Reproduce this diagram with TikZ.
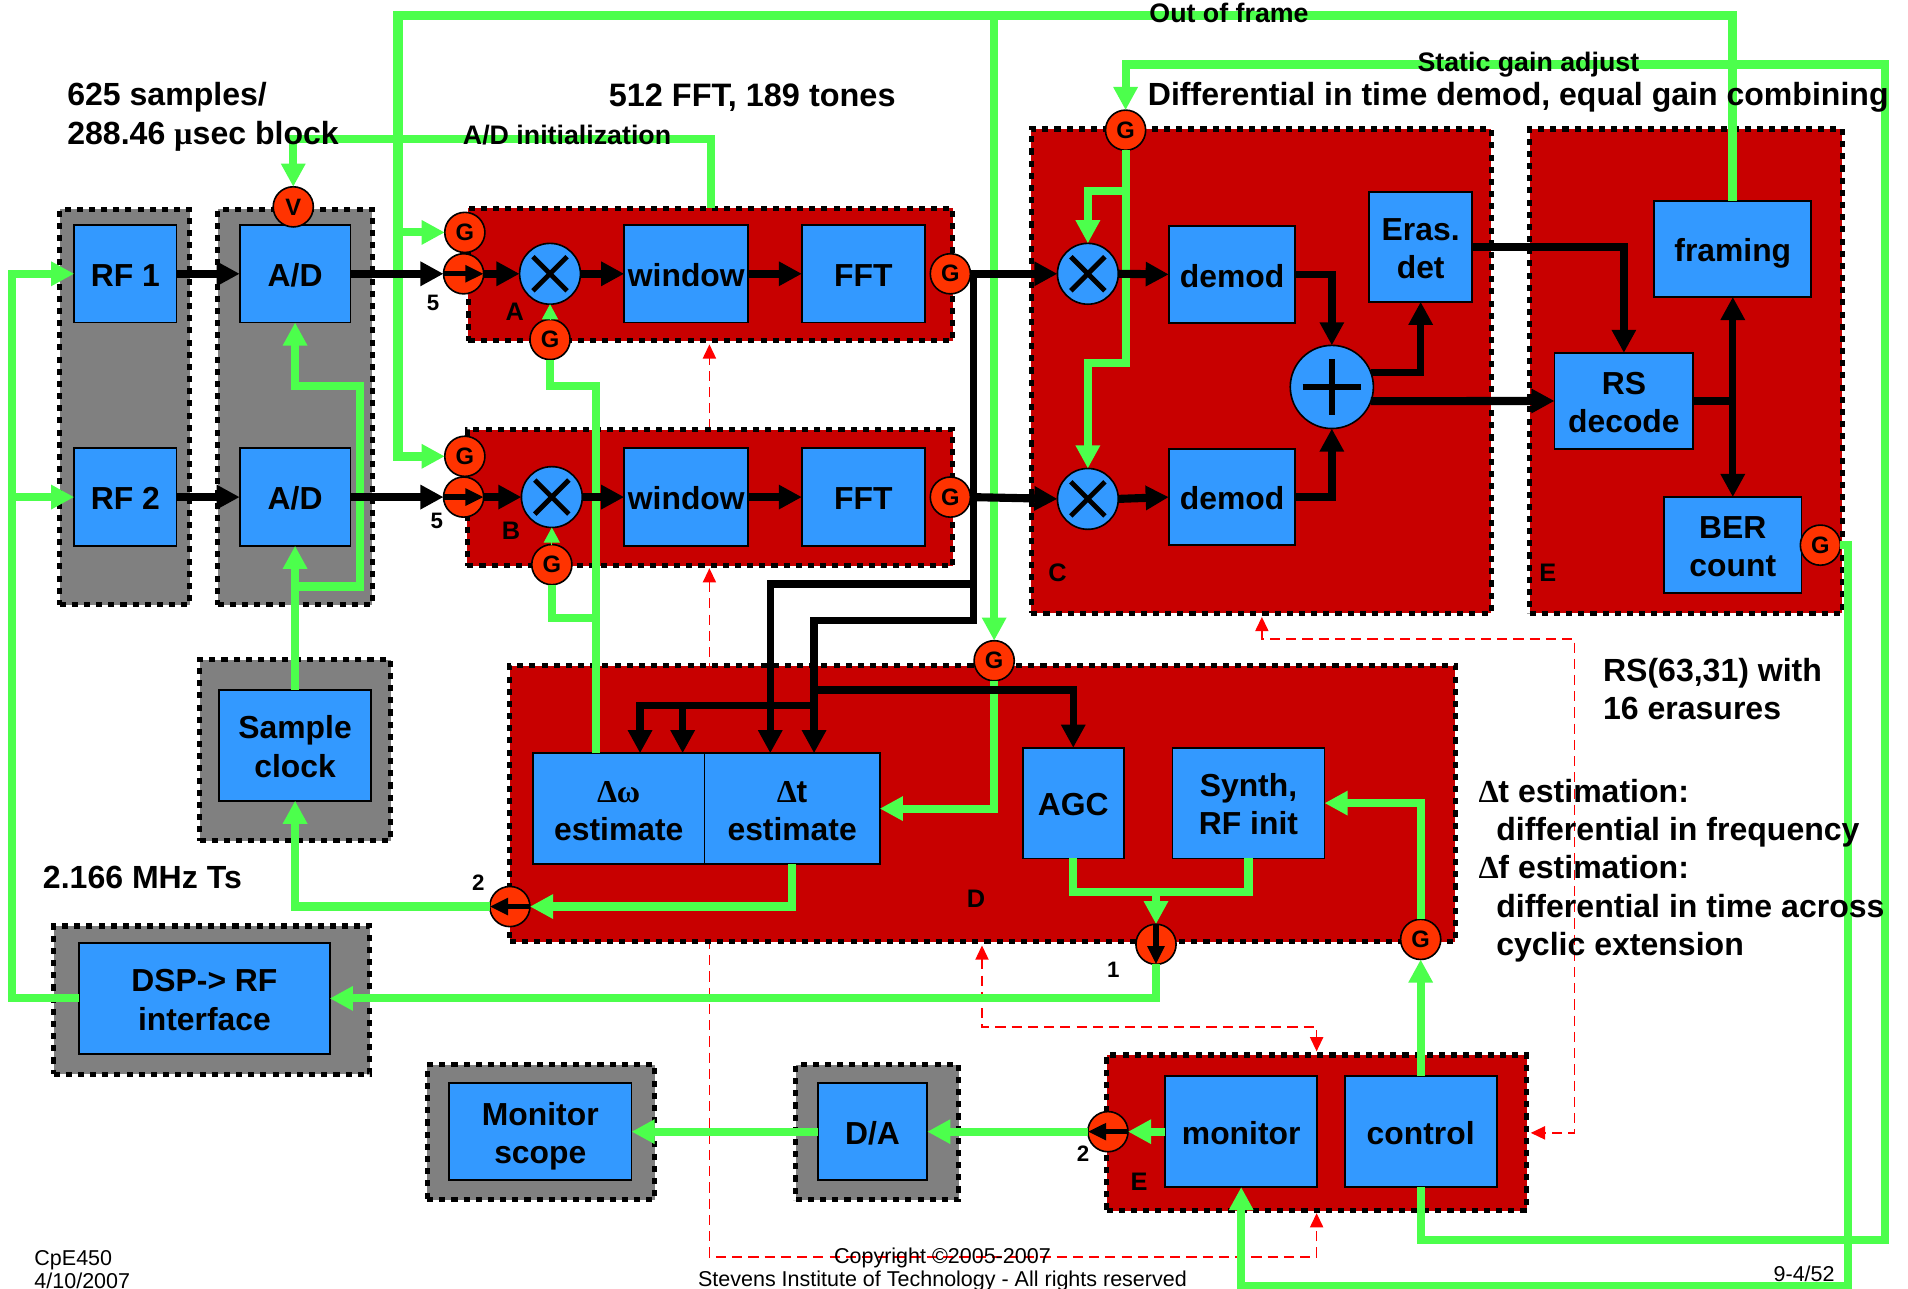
\documentclass[tikz,border=0pt]{standalone}
\usepackage{fontspec}
\setmainfont{Liberation Sans}
\newfontfamily\greekfont{Liberation Serif}
\usetikzlibrary{arrows.meta}

\definecolor{panelred}{HTML}{C80000}
\definecolor{panelgray}{HTML}{808080}
\definecolor{blockblue}{HTML}{3399FF}
\definecolor{gainorange}{HTML}{FF3300}
\definecolor{wiregreen}{HTML}{4CFF4C}

\newcommand{\uprow}{\rule{0pt}{16.5pt}}

\tikzset{
	boxsize/.style 2 args={minimum width=#1*0.6pt, minimum height=#2*0.6pt},
	panel/.style={draw=black, line width=2.5pt, dash pattern=on 3pt off 3pt, inner sep=0pt, outer sep=0pt},
	redpanel/.style={panel, fill=panelred},
	graypanel/.style={panel, fill=panelgray},
	block/.style={draw=black, line width=0.9pt, fill=blockblue, inner sep=0pt, outer sep=0pt, align=center, font=\fontsize{15.7}{18.9}\selectfont\bfseries,
		execute at begin node={\rule{0pt}{16.5pt}}, execute at end node={\rule[-4pt]{0pt}{4pt}}},
	gain/.style={circle, draw=black, line width=0.8pt, fill=gainorange, inner sep=0pt, outer sep=0pt, minimum size=19.8pt, font=\fontsize{11.7}{14}\selectfont\bfseries},
	mixer/.style={circle, draw=black, line width=0.8pt, fill=blockblue, inner sep=0pt, outer sep=0pt, minimum size=30pt},
	glyph/.style={line width=2.4pt, black},
	greenline/.style={draw=wiregreen, line width=4pt, -{Triangle[length=11.4pt,width=11.4pt]}},
	greenplain/.style={draw=wiregreen, line width=4pt},
	greentiny/.style={draw=wiregreen, line width=0.5pt, -{Triangle[length=7.5pt,width=8pt]}},
	blackline/.style={draw=black, line width=4pt, -{Triangle[length=11.4pt,width=11.4pt]}},
	blackthin/.style={draw=black, line width=3.6pt, -{Triangle[length=11.4pt,width=11.4pt]}},
	blackinner/.style={draw=black, line width=2.6pt, -{Triangle[length=9pt,width=8pt]}},
	dashline/.style={draw=red, line width=0.7pt, dash pattern=on 5pt off 3pt, -{Triangle[length=7pt,width=6.5pt]}},
	bigtext/.style={align=left, inner sep=0pt, font=\fontsize{15.8}{18.9}\selectfont\bfseries},
	midtext/.style={align=center, inner sep=0pt, font=\fontsize{13.2}{15}\selectfont\bfseries},
	smalltext/.style={inner sep=0pt, font=\fontsize{11}{13}\selectfont\bfseries},
	sectext/.style={inner sep=0pt, font=\fontsize{12.5}{14}\selectfont\bfseries},
	foottext/.style={inner sep=0pt, font=\fontsize{10.6}{11.4}\selectfont},
}

\begin{document}
\begin{tikzpicture}[x=0.6pt, y=-0.6pt]
	\useasboundingbox (0,0) rectangle (1568,1059);

	\coordinate (tipa) at (583,283);
	\coordinate (tipb) at (583,467);
	\coordinate (tipc) at (1037,507);
	\coordinate (tipd) at (807,777);
	\coordinate (tipe) at (1082,864);
	\coordinate (tipf) at (1082,997);
	\coordinate (tipg) at (1258,931);
	\coordinate (dashb) at (583,353);
	\coordinate (dwtop) at (490,619);

	\draw[dashline] (dashb) -- (tipa);
	\draw[dashline, {Triangle[length=7pt,width=6.5pt]}-{Triangle[length=7pt,width=6.5pt]}] (tipb) -- (583,1033) -- (1082,1033) -- (tipf);
	\draw[dashline, {Triangle[length=7pt,width=6.5pt]}-{Triangle[length=7pt,width=6.5pt]}] (tipc) -- (1037,525) -- (1294,525) -- (1294,931) -- (tipg);
	\draw[dashline, {Triangle[length=7pt,width=6.5pt]}-{Triangle[length=7pt,width=6.5pt]}] (tipd) -- (807,844) -- (1082,844) -- (tipe);

	\node (panrf) [graypanel, boxsize={107}{325}] at (102.5,334.5) {};
	\node (panad) [graypanel, boxsize={127}{325}] at (242.5,334.5) {};
	\node (pana) [redpanel, boxsize={398}{109}] at (584,225.5) {};
	\node (panb) [redpanel, boxsize={399}{112}] at (583.5,409) {};
	\node (panc) [redpanel, boxsize={378}{398}] at (1036.5,305) {};
	\node (pane) [redpanel, boxsize={257}{398}] at (1385.5,305) {};
	\node (pand) [redpanel, boxsize={777}{227}] at (807.5,660.5) {};
	\node (panclk) [graypanel, boxsize={157}{149}] at (242.5,616.5) {};
	\node (pandsp) [graypanel, boxsize={260}{122}] at (174,822) {};
	\node (panscp) [graypanel, boxsize={187}{111}] at (444.5,930.5) {};
	\node (panda) [graypanel, boxsize={134}{111}] at (721,930.5) {};
	\node (panmon) [redpanel, boxsize={345}{128}] at (1082,931) {};

	\node (rfa) [block, boxsize={84}{80}] at (103,225) {RF 1};
	\node (rfb) [block, boxsize={84}{80}] at (103,408.5) {RF 2};
	\node (ada) [block, boxsize={91}{80}] at (242.5,225) {A/D};
	\node (adb) [block, boxsize={91}{80}] at (242.5,408.5) {A/D};
	\node (wina) [block, boxsize={102}{80}] at (564,225) {window};
	\node (winb) [block, boxsize={102}{80}] at (564,408.5) {window};
	\node (ffta) [block, boxsize={101}{80}] at (709.5,225) {FFT};
	\node (fftb) [block, boxsize={101}{80}] at (709.5,408.5) {FFT};
	\node (dema) [block, boxsize={104}{80}] at (1012.5,225.5) {demod};
	\node (demb) [block, boxsize={104}{79}] at (1012.5,408.5) {demod};
	\node (eras) [block, boxsize={85}{90}] at (1167.5,203) {\uprow Eras.\\det};
	\node (frm) [block, boxsize={129}{79}] at (1424,204.5) {framing};
	\node (rsd) [block, boxsize={114}{79}] at (1334.5,329.5) {\uprow RS\\decode};
	\node (ber) [block, boxsize={113}{79}] at (1424,448) {\uprow BER\\count};
	\node (dw) [block, boxsize={141}{91}] at (508.5,664.5) {\uprow{\greekfont ∆ω}\\estimate};
	\node (dt) [block, boxsize={144}{91}] at (651,664.5) {\uprow{\greekfont ∆}t\\estimate};
	\node (agc) [block, boxsize={83}{91}] at (882,660) {AGC};
	\node (syn) [block, boxsize={125}{91}] at (1026,660) {\uprow Synth,\\RF init};
	\node (clk) [block, boxsize={125}{91}] at (242.5,612.5) {\uprow Sample\\clock};
	\node (dsp) [block, boxsize={206}{91}] at (168,820.5) {\uprow DSP-> RF\\interface};
	\node (scp) [block, boxsize={150}{80}] at (444,930) {\uprow Monitor\\scope};
	\node (da) [block, boxsize={90}{80}] at (717,930) {D/A};
	\node (mon) [block, boxsize={125}{91}] at (1020,930) {monitor};
	\node (ctl) [block, boxsize={125}{91}] at (1167.5,930) {control};

	\node (mixa) [mixer] at (452,225) {};
	\node (mixb) [mixer] at (453.5,408.5) {};
	\node (mixc) [mixer] at (894,225) {};
	\node (mixd) [mixer] at (894,410) {};
	\node (sum) [mixer, minimum size=41pt] at (1094.5,318) {};
	\draw[glyph, shift={(mixa)}] (-14,-14) -- (14,14) (-14,14) -- (14,-14);
	\draw[glyph, shift={(mixb)}] (-14,-14) -- (14,14) (-14,14) -- (14,-14);
	\draw[glyph, shift={(mixc)}] (-14,-14) -- (14,14) (-14,14) -- (14,-14);
	\draw[glyph, shift={(mixd)}] (-14,-14) -- (14,14) (-14,14) -- (14,-14);
	\draw[glyph, line width=3pt, shift={(sum)}] (-24,0) -- (24,0) (0,-23) -- (0,23);

	\node (vga) [gain] at (241,170) {V};
	\node (ga) [gain] at (382,191) {G};
	\node (gb) [gain] at (382,375) {G};
	\node (gma) [gain] at (452,279) {G};
	\node (gmb) [gain] at (453.5,464) {G};
	\node (gfa) [gain] at (781,225) {G};
	\node (gfb) [gain] at (781,408.5) {G};
	\node (gc) [gain] at (925,107) {G};
	\node (gd) [gain] at (817,543) {G};
	\node (gs) [gain] at (1167.5,772) {G};
	\node (gber) [gain] at (1496,448) {G};
	\node (sha) [gain] at (381,225) {};
	\node (shb) [gain] at (381,408.5) {};
	\node (shd) [gain] at (419,745) {};
	\node (shc) [gain] at (950,776) {};
	\node (shm) [gain] at (910.5,930) {};

	\draw[greenline, line width=4.6pt] (frm.north) |- (327,13) |- (gb.west);
	\draw[greenline] (327,191) -- (ga.west);
	\draw[greenline] (817,13) -- (gd.north);
	\draw[greenline] (pana.north) -- (584,114) -| (vga.north);
	\draw[greenline] (ctl.south) |- (1549,1019) -- (1549,53) -| (gc.north);
	\draw[greenline] (gc.south) -- (925,157) -| (mixc.north);
	\draw[greenline] (925,157) -- (925,298) -| (mixd.north);
	\draw[greenline] (gber.east) -- (1519,448) -- (1519,1057) -| (mon.south);
	\draw[greenline] (dsp.west) -- (10,820.5) |- (rfa.west);
	\draw[greenline] (10,408.5) -- (rfb.west);
	\draw[greenline] (clk.north) -- (adb.south);
	\draw[greenline] (242.5,482) -- (296,482) -- (296,317) -| (ada.south);
	\draw[greenplain] (dwtop) -- (490,317) -| (gma.south);
	\draw[greenplain] (490,508) -| (gmb.south);
	\draw[greentiny] (gma.north) -- (mixa.south);
	\draw[greentiny] (gmb.north) -- (mixb.south);
	\draw[greenline] (dt.south) |- (shd.east);
	\draw[greenline] (shd.west) -| (clk.south);
	\draw[greenline] (gd.south) |- (dt.east);
	\draw[greenline] (gs.north) |- (syn.east);
	\draw[greenline] (ctl.north) -- (gs.south);
	\draw[greenplain] (agc.south) -- (882,733) -| (syn.south);
	\draw[greenline] (950,733) -- (shc.north);
	\draw[greenline] (shc.south) |- (dsp.east);
	\draw[greenline] (mon.west) -- (shm.east);
	\draw[greenline] (shm.west) -- (da.east);
	\draw[greenline] (da.west) -- (scp.east);

	\draw[blackline] (rfa.east) -- (ada.west);
	\draw[blackline] (rfb.east) -- (adb.west);
	\draw[blackline] (ada.east) -- (sha.west);
	\draw[blackline] (adb.east) -- (shb.west);
	\draw[blackline] (sha.east) -- (mixa.west);
	\draw[blackline] (shb.east) -- (mixb.west);
	\draw[blackline] (mixa.east) -- (wina.west);
	\draw[blackline] (mixb.east) -- (winb.west);
	\draw[blackline] (wina.east) -- (ffta.west);
	\draw[blackline] (winb.east) -- (fftb.west);
	\draw[blackline] (gfa.east) -- (mixc.west);
	\draw[blackline] (gfb.east) -- (mixd.west);
	\draw[blackline] (mixc.east) -- (dema.west);
	\draw[blackline] (mixd.east) -- (demb.west);
	\draw[blackthin] (dema.east) -| (sum.north);
	\draw[blackthin] (demb.east) -| (sum.south);
	\draw[blackthin] (sum.20) -| (eras.south);
	\draw[blackline] (sum.-20) -- (rsd.west);
	\draw[blackthin] (eras.east) -| (rsd.north);
	\draw[blackthin] (rsd.east) -| (frm.south);
	\draw[blackthin] (rsd.east) -| (ber.north);
	\draw[blackthin] (800,225) -- (800,510) -- (669,510) -- (669,0 |- dt.north);
	\draw[blackthin] (800,480) -- (633,480) -- (633,0 |- dt.north);
	\draw[blackthin] (669,567) -| (agc.north);
	\draw[blackthin] (669,580) -- (526,580) -- (526,0 |- dw.north);
	\draw[blackthin] (561,580) -- (561,0 |- dw.north);
	\draw[blackinner] (sha.west) -- (sha.east);
	\draw[blackinner] (shb.west) -- (shb.east);
	\draw[blackinner] (shd.east) -- (shd.west);
	\draw[blackinner] (shc.north) -- (shc.south);
	\draw[blackinner] (shm.east) -- (shm.west);

	\node (txtsamples) [bigtext, anchor=west] at (55,96) {625 samples/\\288.46 {\greekfont µ}sec block};
	\node (txtfft) [bigtext, font=\fontsize{16}{18.9}\selectfont\bfseries, anchor=west] at (500,80) {512 FFT, 189 tones};
	\node (txtdiff) [bigtext, anchor=west] at (943,80) {Differential in time demod, equal gain combining};
	\node (txtrs) [bigtext, anchor=west] at (1317,566) {RS(63,31) with\\16 erasures};
	\node (txtts) [bigtext, anchor=west] at (35,721) {2.166 MHz Ts};
	\node (txtest) [bigtext, anchor=west] at (1215,715.5) {{\greekfont ∆}t estimation:\\\hspace*{8.6pt}differential in frequency\\{\greekfont ∆}f estimation:\\\hspace*{8.6pt}differential in time across\\\hspace*{8.6pt}cyclic extension};
	\node (txtinit) [midtext] at (466,111) {A/D initialization};
	\node (txtoof) [midtext] at (1010,11) {Out of frame};
	\node (txtstatic) [midtext] at (1256,53) {Static gain adjust};

	\node (lbla) [smalltext] at (356,249) {5};
	\node (lblb) [smalltext] at (359,428) {5};
	\node (lblc) [smalltext] at (393,725) {2};
	\node (lbld) [smalltext] at (915,797) {1};
	\node (lble) [smalltext] at (890,948) {2};
	\node (seca) [sectext] at (423,256) {A};
	\node (secb) [sectext] at (420,436) {B};
	\node (secc) [sectext] at (869,471) {C};
	\node (secd) [sectext] at (802,739) {D};
	\node (sece) [sectext] at (1272,471) {E};
	\node (secm) [sectext] at (936,971) {E};

	\node (ftdate) [foottext, align=left, anchor=west] at (28,1043) {CpE450\\4/10/2007};
	\node (ftcopy) [foottext, align=center] at (774.5,1043) {Copyright ©2005-2007\\Stevens Institute of Technology - All rights reserved};
	\node (ftpage) [foottext, anchor=east] at (1508,1047) {9-4/52};
\end{tikzpicture}
\end{document}
